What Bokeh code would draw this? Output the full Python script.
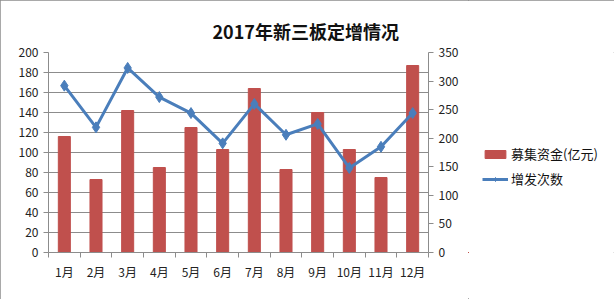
from bokeh.plotting import figure
from bokeh.layouts import row
from bokeh.models import (Range1d, LinearAxis, FixedTicker, SingleIntervalTicker,
                          Legend, LegendItem, Title)
from bokeh.embed import file_html
from bokeh.resources import INLINE

months = ["1月", "2月", "3月", "4月", "5月", "6月", "7月", "8月", "9月", "10月", "11月", "12月"]
funds = [116, 73, 142, 85, 125, 103, 164, 83, 140, 103, 75, 187]        # 募集资金(亿元)
counts = [292, 219, 323, 272, 244, 191, 260, 206, 225, 148, 185, 244]   # 增发次数
title_text = "2017年新三板定增情况"
bar_label = "募集资金(亿元)"
line_label = "增发次数"

FONT = "Noto Sans CJK SC"
GRID = "#8c8c8c"
RED = "#C0504D"
BLUE = "#4A7EBB"
x = list(range(1, len(months) + 1))

p1 = figure(width=468, height=299, output_backend="svg", toolbar_location=None,
            x_range=Range1d(0.5, 12.5), y_range=Range1d(0, 200),
            min_border_left=48, min_border_right=40, min_border_top=52, min_border_bottom=47)
p1.outline_line_color = None
p1.extra_y_ranges = {"right": Range1d(0, 350)}

p1.vbar(x=x, top=funds, width=0.38, color=RED)
p1.line(x=x, y=counts, y_range_name="right", line_color=BLUE, line_width=3)
p1.scatter(x=x, y=counts, y_range_name="right", marker="diamond", size=11,
           fill_color=BLUE, line_color=BLUE)

p1.xaxis.ticker = FixedTicker(ticks=x, minor_ticks=[i + 0.5 for i in range(0, 13)])
p1.xaxis.major_label_overrides = {i: m for i, m in zip(x, months)}
p1.xaxis.major_tick_out = 0
p1.xaxis.major_tick_in = 0
p1.xaxis.minor_tick_out = 5
p1.xaxis.minor_tick_in = 0

p1.yaxis.ticker = SingleIntervalTicker(interval=20)
p1.yaxis.major_tick_out = 5
p1.yaxis.major_tick_in = 0

ra = LinearAxis(y_range_name="right", ticker=SingleIntervalTicker(interval=50))
ra.major_tick_out = 5
ra.major_tick_in = 0
p1.add_layout(ra, "right")

for ax in [p1.xaxis[0], p1.yaxis[0], ra]:
    ax.axis_line_color = GRID
    ax.major_tick_line_color = GRID
    ax.minor_tick_line_color = GRID if ax is p1.xaxis[0] else None
    ax.major_label_text_font = FONT
    ax.major_label_text_font_size = "12px"
    ax.major_label_text_color = "#222222"
    ax.major_label_standoff = 5

p1.xgrid.grid_line_color = None
p1.ygrid.ticker = SingleIntervalTicker(interval=20)
p1.ygrid.grid_line_color = GRID
p1.ygrid.grid_line_width = 1

p1.add_layout(Title(text=title_text, text_font=FONT, text_font_size="18px",
                    text_font_style="bold", text_color="#111111", align="left",
                    vertical_align="top", offset=164, standoff=14), "above")

# legend panel: same series drawn off-screen so the legend can show their glyphs
p2 = figure(width=146, height=299, output_backend="svg", toolbar_location=None,
            x_range=Range1d(100, 101), y_range=Range1d(1000, 1001),
            min_border_left=0, min_border_right=0, min_border_top=0, min_border_bottom=0)
p2.axis.visible = False
p2.grid.visible = False
p2.outline_line_color = None
lb = p2.vbar(x=x, top=funds, width=0.38, color=RED)
ll = p2.line(x=x, y=counts, line_color=BLUE, line_width=3)
lm = p2.scatter(x=x, y=counts, marker="diamond", size=11, fill_color=BLUE, line_color=BLUE)

legend = Legend(items=[LegendItem(label=bar_label, renderers=[lb]),
                       LegendItem(label=line_label, renderers=[ll, lm])],
                location=(14, 64), orientation="vertical")
legend.label_text_font = FONT
legend.label_text_font_size = "13px"
legend.label_text_color = "#111111"
legend.glyph_width = 26
legend.glyph_height = 10
legend.spacing = 6
legend.padding = 0
legend.margin = 0
legend.label_standoff = 3
legend.border_line_color = None
legend.background_fill_alpha = 0
p2.add_layout(legend, "center")

layout = row(p1, p2)
layout.styles = {"outline": "1px solid #8c8c8c", "outline-offset": "-1px"}
open("out.html", "w").write(file_html(layout, INLINE))
